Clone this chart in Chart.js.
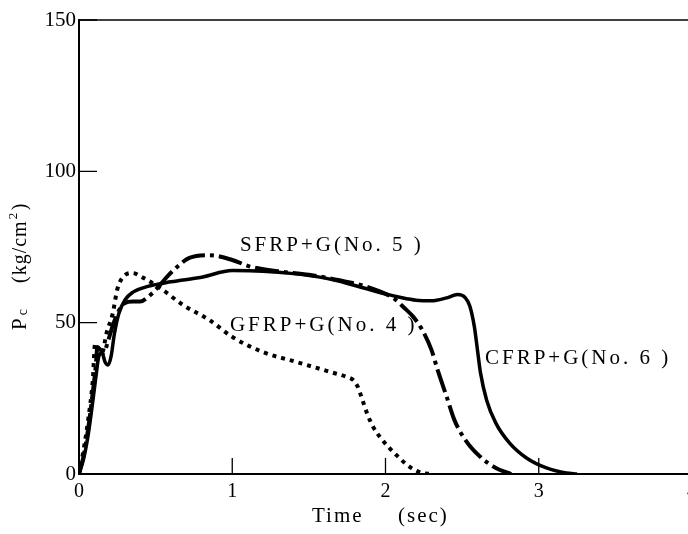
<!DOCTYPE html>
<html>
<head>
<meta charset="utf-8">
<script src="https://cdn.jsdelivr.net/npm/chart.js@4.4.0/dist/chart.umd.min.js"></script>
<style>
html, body { margin: 0; padding: 0; background: #fff; overflow: hidden; }
#wrap { width: 704px; height: 534px; position: relative; }
</style>
</head>
<body>
<div id="wrap"><canvas id="pc"></canvas></div>
<script>
// Pc (kg/cm2) against time (sec), one pair of arrays per specimen
var cfrpTime = [0, 0.03, 0.06, 0.09, 0.11, 0.13, 0.15, 0.17, 0.19, 0.21, 0.23, 0.26, 0.30, 0.35, 0.45, 0.60, 0.80, 1.00, 1.20, 1.40, 1.60, 1.80, 2.00, 2.10, 2.20, 2.30, 2.40, 2.47, 2.52, 2.55, 2.58, 2.60, 2.62, 2.66, 2.72, 2.81, 2.92, 3.05, 3.18, 3.25];
var cfrpPc   = [0, 5, 13, 24, 32, 39, 40, 37, 36, 39, 46, 53, 57.5, 60, 62, 63.5, 65, 67.2, 67, 66.2, 64.8, 62.3, 59.5, 58.3, 57.4, 57.2, 58.2, 59.3, 58.3, 55.5, 48.6, 41, 33.4, 24.4, 16.8, 10.2, 5.3, 2, 0.3, 0];

var sfrpTime = [0, 0.03, 0.06, 0.09, 0.11, 0.12, 0.14, 0.16, 0.19, 0.22, 0.26, 0.30, 0.35, 0.40, 0.45, 0.51, 0.58, 0.64, 0.72, 0.85, 1.00, 1.12, 1.30, 1.50, 1.70, 1.90, 2.06, 2.12, 2.18, 2.24, 2.30, 2.34, 2.40, 2.45, 2.53, 2.62, 2.72, 2.82];
var sfrpPc   = [0, 6, 15, 27, 36, 42, 41, 40, 44, 49, 54, 56.5, 57, 57, 58.5, 61.4, 65.5, 68.4, 71.4, 72.3, 70.7, 68.5, 67, 65.8, 64, 61.5, 57.8, 55, 52, 47.6, 41, 34.4, 25.4, 17.8, 10.6, 5.6, 2, 0];

var gfrpTime = [0, 0.03, 0.06, 0.09, 0.105, 0.12, 0.15, 0.18, 0.22, 0.25, 0.30, 0.35, 0.42, 0.53, 0.68, 0.85, 1.00, 1.20, 1.42, 1.64, 1.75, 1.79, 1.82, 1.85, 1.88, 1.92, 1.98, 2.07, 2.16, 2.24, 2.30];
var gfrpPc   = [0, 8, 18, 31, 43, 42, 40, 46.6, 53, 61, 65.7, 66.4, 64.8, 61.4, 55.8, 50.9, 45.3, 40.3, 37, 33.7, 32, 31, 28.7, 24.4, 20, 15.5, 11.2, 6.3, 2.3, 0.3, 0];

var seriesNames = ['CFRP+G(No. 6 )', 'SFRP+G(No. 5 )', 'GFRP+G(No. 4 )'];
var xTicks = [0, 1, 2, 3, 4];
var yTicks = [0, 50, 100, 150];

function pairs(ts, ps) {
    return ts.map(function (t, i) { return { x: t, y: ps[i] }; });
}

var serif = '"Liberation Serif", "Times New Roman", serif';
Chart.defaults.font.family = serif;
Chart.defaults.color = '#000';

// frame top line, inward tick marks, axis titles and curve labels
var extras = {
    id: 'extras',
    afterDraw: function (chart) {
        var ctx = chart.ctx, a = chart.chartArea;
        var x = chart.scales.x, y = chart.scales.y;
        ctx.save();
        ctx.strokeStyle = '#000';
        ctx.lineWidth = 1.5;
        ctx.beginPath();
        ctx.moveTo(a.left, a.top);
        ctx.lineTo(a.right, a.top);
        ctx.stroke();

        ctx.lineWidth = 1.3;
        ctx.beginPath();
        xTicks.forEach(function (v) {
            if (v === 0) return;
            var px = x.getPixelForValue(v);
            ctx.moveTo(px, a.bottom);
            ctx.lineTo(px, a.bottom - 16);
        });
        yTicks.forEach(function (v) {
            if (v === 0) return;
            var py = y.getPixelForValue(v);
            ctx.moveTo(a.left, py);
            ctx.lineTo(a.left + 18, py);
        });
        ctx.stroke();

        ctx.fillStyle = '#000';
        ctx.textBaseline = 'alphabetic';
        ctx.textAlign = 'left';

        // x title
        ctx.font = '21px ' + serif;
        ctx.letterSpacing = '2px';
        ctx.fillText('Time', 312, 522);
        ctx.fillText('(sec)', 398, 522);

        // y title, rotated
        ctx.save();
        ctx.translate(26, 330);
        ctx.rotate(-Math.PI / 2);
        ctx.letterSpacing = '0px';
        ctx.font = '21px ' + serif;
        ctx.fillText('P', 0, 0);
        var pw = ctx.measureText('P').width;
        ctx.font = '14px ' + serif;
        ctx.fillText('c', pw + 3, 1);
        ctx.font = '20px ' + serif;
        ctx.letterSpacing = '1px';
        ctx.fillText('(kg/cm', 47, 0);
        var kw = ctx.measureText('(kg/cm').width;
        ctx.font = '13px ' + serif;
        ctx.fillText('2', 47 + kw + 1, -9);
        ctx.font = '20px ' + serif;
        ctx.fillText(')', 47 + kw + 10, 0);
        ctx.restore();

        // curve labels, anchored in data units
        ctx.font = '21px ' + serif;
        ctx.letterSpacing = '3px';
        var labels = [
            { text: seriesNames[1], t: 1.05, p: 73.7 },
            { text: seriesNames[2], t: 0.985, p: 47.2 },
            { text: seriesNames[0], t: 2.649, p: 36.3 }
        ];
        labels.forEach(function (l) {
            ctx.fillText(l.text, x.getPixelForValue(l.t), y.getPixelForValue(l.p));
        });
        ctx.restore();
    }
};

new Chart(document.getElementById('pc').getContext('2d'), {
    type: 'line',
    data: {
        datasets: [{
            label: seriesNames[2],
            data: pairs(gfrpTime, gfrpPc),
            borderColor: '#000',
            borderWidth: 4,
            borderDash: [4, 5],
            borderCapStyle: 'butt',
            pointRadius: 0,
            fill: false,
            cubicInterpolationMode: 'monotone'
        }, {
            label: seriesNames[1],
            data: pairs(sfrpTime, sfrpPc),
            borderColor: '#000',
            borderWidth: 4,
            borderDash: [24, 5, 4, 5],
            borderCapStyle: 'butt',
            pointRadius: 0,
            fill: false,
            cubicInterpolationMode: 'monotone'
        }, {
            label: seriesNames[0],
            data: pairs(cfrpTime, cfrpPc),
            borderColor: '#000',
            borderWidth: 3.5,
            pointRadius: 0,
            fill: false,
            cubicInterpolationMode: 'monotone'
        }]
    },
    options: {
        responsive: true,
        maintainAspectRatio: false,
        animation: false,
        layout: { padding: { top: 20, right: 12, left: 0, bottom: 0 } },
        plugins: {
            legend: { display: false },
            tooltip: { enabled: false }
        },
        scales: {
            x: {
                type: 'linear',
                min: 0,
                max: 4,
                afterFit: function (s) { s.height = 60; },
                afterBuildTicks: function (s) { s.ticks = xTicks.map(function (v) { return { value: v }; }); },
                grid: { display: false, drawTicks: false },
                border: { display: true, color: '#000', width: 2 },
                ticks: { font: { size: 20 }, padding: 6, maxRotation: 0 }
            },
            y: {
                type: 'linear',
                min: 0,
                max: 150,
                afterFit: function (s) { s.width = 79; },
                afterBuildTicks: function (s) { s.ticks = yTicks.map(function (v) { return { value: v }; }); },
                grid: { display: false, drawTicks: false },
                border: { display: true, color: '#000', width: 2 },
                ticks: { font: { size: 21 }, padding: 3 }
            }
        }
    },
    plugins: [extras]
});
</script>
</body>
</html>
